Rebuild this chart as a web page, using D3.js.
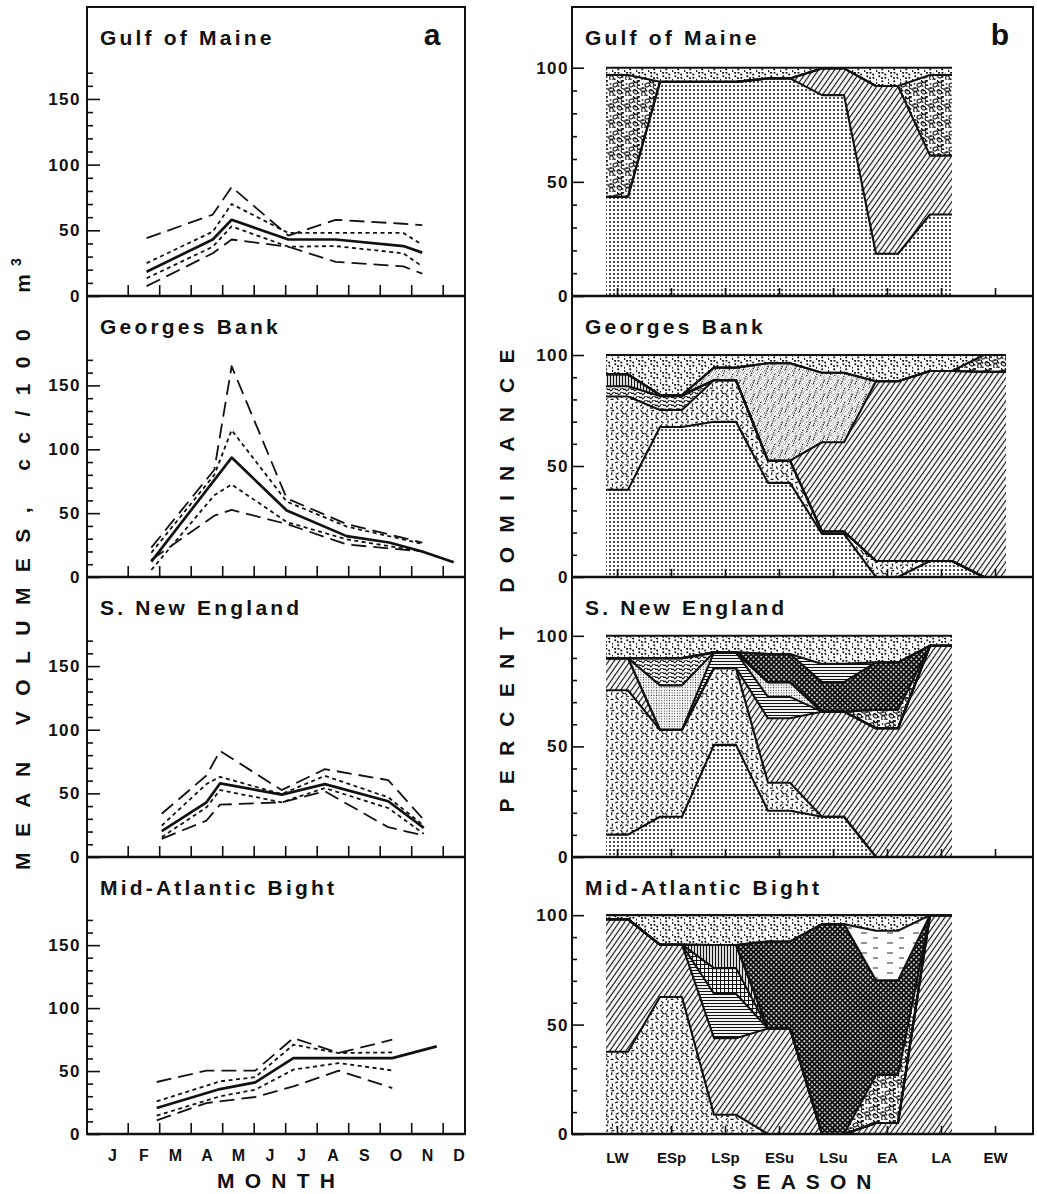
<!DOCTYPE html>
<html>
<head>
<meta charset="utf-8">
<script src="https://cdn.jsdelivr.net/npm/d3@7"></script>
<style>
body { margin: 0; background: #fff; }
svg text { font-family: "Liberation Sans", Arial, sans-serif; font-weight: bold; fill: #111; }
</style>
</head>
<body>
<svg id="chart" width="1037" height="1194"></svg>
<script>
// ---------------- data ----------------
var regions = ["Gulf of Maine", "Georges Bank", "S. New England", "Mid-Atlantic Bight"];
var months = ["J", "F", "M", "A", "M", "J", "J", "A", "S", "O", "N", "D"];
var seasons = ["LW", "ESp", "LSp", "ESu", "LSu", "EA", "LA", "EW"];

// panel a : mean volumes (cc/100 m3), x = month (0 = 1 Jan)
// order of lines: upper long dash, upper short dash, mean, lower short dash, lower long dash
var gomCruise  = [1.6, 3.7, 4.3, 6.1, 7.6, 9.75, 10.35];
var gomHiOuter = [44, 62, 83, 46, 58, 55, 54];
var gomHiInner = [25, 49, 70, 48, 48, 48, 39];
var gomMean    = [18.5, 43, 58, 43, 43, 38, 33];
var gomLoInner = [13.5, 37.5, 53, 37.5, 38, 32.5, 22.5];
var gomLoOuter = [7.5, 32.5, 43, 37.5, 26, 22.5, 17];

var gbCruise  = [1.75, 3.75, 4.3, 6.05, 7.95, 9.3, 10.35, 11.35];
var gbHiOuter = [23, 84, 165, 61.5, 41.5, null, 27, null];
var gbHiInner = [19, 80, 115, 59, 39.5, null, 26, null];
var gbMean    = [12, null, 93.5, 52, 32, 27, 20, 11.5];
var gbLoInner = [5.5, 64, 72.5, 43, 29.5, null, 20, null];
var gbLoOuter = [13.5, 48, 52.5, 41.5, 25.5, null, 20, null];

var sneCruise  = [2.08, 3.5, 3.93, 5.89, 7.26, 9.27, 10.4];
var sneHiOuter = [34, 64, 83.3, 52.6, 69, 60.4, 29.2];
var sneHiInner = [24.7, 57.3, 63, 49.5, 63.8, 46.9, 24.7];
var sneMean    = [20.3, 43, 57.8, 49, 57.3, 43.8, 22.9];
var sneLoInner = [15.6, 39, 52.6, 43, 54.2, 38.5, 18.2];
var sneLoOuter = [14.3, 28.6, 41.1, 43, 51.6, 23.4, 16.9];

var mabCruise  = [1.92, 3.5, 3.93, 5.05, 6.26, 7.7, 9.4, 10.81];
var mabHiOuter = [41.3, 50.3, null, 50.3, 76.2, 64.3, 74.9, null];
var mabHiInner = [25.9, null, 41.8, 45.2, 70.9, 64.3, 64.8, null];
var mabMean    = [20.6, null, 35.7, 41, 60.3, 60.3, 60.3, 69.6];
var mabLoInner = [14.6, null, 29.9, 35.2, 51.1, 56.3, 50.5, null];
var mabLoOuter = [10.8, 24.6, null, 29.4, 37.8, 50.3, 36.5, null];

// panel b : percent dominance by season, one row per group (bottom to top)
var gomKeys   = ["dots", "diag", "pebbles", "topdots"];
var gomShares = [
  [43.5, 93.8, 93.8, 95.3, 88.0, 18.5, 35.7],
  [0, 0, 0, 0, 11.7, 73.5, 25.8],
  [53.3, 0, 0, 0, 0, 0, 35.3],
  [3.2, 6.2, 6.2, 4.7, 0.3, 8.0, 3.2]
];

var gbKeys   = ["dots", "dashes", "curly", "vlines", "diag", "gray", "pebbles", "topdots"];
var gbShares = [
  [39.3, 67.6, 69.9, 42.4, 19.4, 0, 7.2, 0],
  [42.0, 7.6, 18.8, 10.0, 1.1, 7.2, 0, 0],
  [4.6, 6.3, 0, 0, 0, 0, 0, 0],
  [5.4, 0.5, 0, 0, 0, 0, 0, 0],
  [0, 0, 0, 0, 40.2, 81.0, 85.6, 92.4],
  [0, 0, 5.6, 43.9, 31.3, 0, 0, 0],
  [0, 0, 0, 0, 0, 0, 0, 7.6],
  [8.7, 18.0, 5.7, 3.7, 8.0, 11.8, 7.2, 0]
];

var sneKeys   = ["dots", "dashes", "diag", "hlines", "stipple", "curly", "pebbles", "cross", "hlines2", "topdots"];
var sneShares = [
  [10.1, 18.2, 50.7, 20.9, 18.2, 0, 0],
  [65.3, 39.3, 34.7, 12.7, 0, 0, 0],
  [14.5, 0, 0, 29.1, 47.5, 58.2, 95.5],
  [0, 0, 7.1, 9.7, 0, 0, 0],
  [0, 20.1, 0, 6.6, 0, 0, 0],
  [0, 12.3, 0, 0, 0, 0, 0],
  [0, 0, 0, 0, 0, 8.3, 0],
  [0, 0, 0, 12.8, 13.4, 21.5, 0],
  [0, 0, 0, 0, 8.2, 0, 0],
  [10.1, 10.1, 7.5, 8.2, 12.7, 12.0, 4.5]
];

var mabKeys   = ["dashes", "diag", "hlines", "grid", "vlines", "pebbles", "cross", "blank", "topdots"];
var mabShares = [
  [37.6, 62.6, 8.8, 0, 0, 0, 0],
  [60.6, 23.9, 35.0, 48.2, 0, 5.0, 100],
  [0, 0, 20.3, 0, 0, 0, 0],
  [0, 0, 11.7, 0, 0, 0, 0],
  [0, 0, 10.6, 0, 0, 0, 0],
  [0, 0, 0, 0, 0, 22.0, 0],
  [0, 0, 0, 39.8, 95.9, 43.2, 0],
  [0, 0, 0, 0, 0, 22.7, 0],
  [1.8, 13.5, 13.6, 12.0, 4.1, 7.1, 0]
];

var volumes = [
  {x: gomCruise, lines: [gomHiOuter, gomHiInner, gomMean, gomLoInner, gomLoOuter]},
  {x: gbCruise,  lines: [gbHiOuter, gbHiInner, gbMean, gbLoInner, gbLoOuter]},
  {x: sneCruise, lines: [sneHiOuter, sneHiInner, sneMean, sneLoInner, sneLoOuter]},
  {x: mabCruise, lines: [mabHiOuter, mabHiInner, mabMean, mabLoInner, mabLoOuter]}
];
var dominance = [
  {keys: gomKeys, shares: gomShares, n: 7},
  {keys: gbKeys,  shares: gbShares,  n: 8},
  {keys: sneKeys, shares: sneShares, n: 7},
  {keys: mabKeys, shares: mabShares, n: 7}
];

// ---------------- layout ----------------
var svg = d3.select("#chart");
var rowTop = [7, 296, 577, 857], rowBottom = [296, 577, 857, 1134];
var aLeft = 87, aRight = 465, bLeft = 572, bRight = 1033;

var xMonth = d3.scaleLinear().domain([0, 12]).range([96.2, 474.2]);
var xSeason = d3.scaleLinear().domain([0, 7]).range([617, 995]);
var half = 11; // half width of the flat step drawn for each season

var lineStyles = [
  {dash: "15,7", w: 1.8},
  {dash: "4,3.5", w: 1.8},
  {dash: null, w: 2.7},
  {dash: "4,3.5", w: 1.8},
  {dash: "15,7", w: 1.8}
];

// ---------------- fill patterns ----------------
var defs = svg.append("defs");
function frac(v) { return v - Math.floor(v); }
function pat(id, w, h, transform) {
  var p = defs.append("pattern").attr("id", "p-" + id)
    .attr("patternUnits", "userSpaceOnUse").attr("width", w).attr("height", h);
  if (transform) p.attr("patternTransform", transform);
  p.append("rect").attr("width", w).attr("height", h).attr("fill", "#fff");
  return p;
}
// regular dots
pat("dots", 4, 4).append("circle").attr("cx", 2).attr("cy", 2).attr("r", 1).attr("fill", "#111");
// scattered coarse dots
var td = pat("topdots", 12, 12);
d3.range(9).forEach(function(i) {
  td.append("circle").attr("cx", frac(0.5 + 0.7548776662 * i) * 12).attr("cy", frac(0.5 + 0.5698402910 * i) * 12)
    .attr("r", 1.05).attr("fill", "#111");
});
// random short dashes
var ds = pat("dashes", 20, 20);
d3.range(22).forEach(function(i) {
  var cx = frac(0.3 + 0.7548776662 * i) * 20, cy = frac(0.7 + 0.5698402910 * i) * 20;
  var a = frac(0.2 + 0.618034 * i) * Math.PI;
  ds.append("line").attr("x1", cx - 1.5 * Math.cos(a)).attr("y1", cy - 1.5 * Math.sin(a))
    .attr("x2", cx + 1.5 * Math.cos(a)).attr("y2", cy + 1.5 * Math.sin(a))
    .attr("stroke", "#111").attr("stroke-width", 1.25);
});
// fine grey speckle
var gr = pat("gray", 14, 14);
d3.range(55).forEach(function(i) {
  gr.append("circle").attr("cx", frac(0.1 + 0.7548776662 * i) * 14).attr("cy", frac(0.4 + 0.5698402910 * i) * 14)
    .attr("r", i % 6 === 0 ? 0.8 : 0.45).attr("fill", "#222");
});
// fine regular stipple
pat("stipple", 2.6, 2.6).append("circle").attr("cx", 1.3).attr("cy", 1.3).attr("r", 0.6).attr("fill", "#222");
// diagonal hatch
pat("diag", 4.4, 4.4, "rotate(35)").append("line").attr("x1", 2.2).attr("y1", 0).attr("x2", 2.2).attr("y2", 4.4)
  .attr("stroke", "#111").attr("stroke-width", 1.2);
// horizontal and vertical lines
pat("hlines", 3, 3).append("line").attr("x1", 0).attr("y1", 1.5).attr("x2", 3).attr("y2", 1.5)
  .attr("stroke", "#111").attr("stroke-width", 1.1);
pat("vlines", 3, 3).append("line").attr("x1", 1.5).attr("y1", 0).attr("x2", 1.5).attr("y2", 3)
  .attr("stroke", "#111").attr("stroke-width", 1.3);
// dense cross hatch
var cr = pat("cross", 3.6, 3.6, "rotate(45)");
cr.append("rect").attr("width", 3.6).attr("height", 3.6).attr("fill", "#111");
cr.append("rect").attr("x", 1).attr("y", 1).attr("width", 1.6).attr("height", 1.6).attr("fill", "#fff");
// square grid
var gd = pat("grid", 4, 4);
gd.append("path").attr("d", "M0,0.5H4M0.5,0V4").attr("stroke", "#111").attr("stroke-width", 1.2);
// pebbles
var pb = pat("pebbles", 16, 16);
d3.range(7).forEach(function(i) {
  var cx = frac(0.2 + 0.7548776662 * i) * 16, cy = frac(0.6 + 0.5698402910 * i) * 16;
  pb.append("ellipse").attr("cx", cx).attr("cy", cy).attr("rx", 2.5).attr("ry", 1.8)
    .attr("transform", "rotate(" + (frac(0.618034 * i) * 180) + "," + cx + "," + cy + ")")
    .attr("fill", "none").attr("stroke", "#111").attr("stroke-width", 1.1);
});
d3.range(9).forEach(function(i) {
  pb.append("circle").attr("cx", frac(0.65 + 0.7548776662 * i) * 16).attr("cy", frac(0.1 + 0.5698402910 * i) * 16)
    .attr("r", 0.85).attr("fill", "#111");
});
// curly squiggles
pat("curly", 8, 4).append("path").attr("d", "M0,2 C2,-1 2,5 4,2 S6,-1 8,2")
  .attr("fill", "none").attr("stroke", "#111").attr("stroke-width", 1.2);
// mostly blank with a few dashes
var bl = pat("blank", 26, 10);
bl.append("path").attr("d", "M3,3H9M15,8H20").attr("stroke", "#111").attr("stroke-width", 0.9);

// ---------------- panel a : volumes ----------------
volumes.forEach(function(v, r) {
  var top = rowTop[r], bottom = rowBottom[r];
  var y = d3.scaleLinear().domain([0, 220]).range([bottom, top]);
  var g = svg.append("g");

  v.lines.forEach(function(vals, j) {
    var pts = v.x.map(function(m, i) { return [m, vals[i]]; }).filter(function(p) { return p[1] != null; });
    var line = d3.line().x(function(p) { return xMonth(p[0]); }).y(function(p) { return y(p[1]); });
    g.append("path").attr("d", line(pts)).attr("fill", "none").attr("stroke", "#111")
      .attr("stroke-width", lineStyles[j].w).attr("stroke-dasharray", lineStyles[j].dash)
      .attr("stroke-linejoin", "round");
  });

  // y axis: majors with labels, minors every 10
  var yMajor = g.append("g").attr("transform", "translate(" + aLeft + ",0)")
    .call(d3.axisLeft(y).tickValues([0, 50, 100, 150]).tickSize(-13).tickPadding(6));
  var yMinor = g.append("g").attr("transform", "translate(" + aLeft + ",0)")
    .call(d3.axisLeft(y).tickValues(d3.range(10, 180, 10).filter(function(t) { return t % 50; }))
      .tickSize(-6).tickFormat(""));
  // month boundaries
  var xTicks = g.append("g").attr("transform", "translate(0," + bottom + ")")
    .call(d3.axisBottom(xMonth).tickValues(d3.range(1, 12)).tickSize(-11).tickFormat(""));
  [yMajor, yMinor, xTicks].forEach(function(a) {
    a.select(".domain").remove();
    a.selectAll("line").attr("stroke", "#111").attr("stroke-width", 1.6);
  });
  yMajor.selectAll("text").attr("font-size", 17).attr("letter-spacing", 1.5)
    .attr("font-family", "Liberation Sans, Arial, sans-serif").attr("font-weight", "normal").attr("fill", "#111");

  g.append("text").attr("x", 100).attr("y", top + 38).attr("font-size", 21).attr("letter-spacing", 3.2)
    .text(regions[r]);
});

// month labels
var mAxis = svg.append("g").attr("transform", "translate(0," + rowBottom[3] + ")")
  .call(d3.axisBottom(xMonth).tickValues(d3.range(12).map(function(i) { return i + 0.5; }))
    .tickSize(0).tickPadding(16).tickFormat(function(d, i) { return months[i]; }));
mAxis.select(".domain").remove();
mAxis.selectAll("text").attr("font-size", 16).attr("font-weight", "bold")
  .attr("font-family", "Liberation Sans, Arial, sans-serif").attr("fill", "#111");

// ---------------- panel b : dominance ----------------
dominance.forEach(function(dm, r) {
  var top = rowTop[r], bottom = rowBottom[r];
  var y = d3.scaleLinear().domain([0, 100]).range([bottom, bottom - 0.79 * (bottom - top)]);
  var rows = d3.range(dm.n).map(function(i) {
    var o = {season: seasons[i]};
    dm.keys.forEach(function(k, j) { o[k] = dm.shares[j][i]; });
    return o;
  });
  var stacked = d3.stack().keys(dm.keys)(rows);
  var g = svg.append("g");
  var area = d3.area().x(function(d) { return d.x; }).y0(function(d) { return y(d.lo); }).y1(function(d) { return y(d.hi); });
  var line = d3.line().x(function(d) { return d.x; }).y(function(d) { return y(d.hi); });

  stacked.forEach(function(s) {
    var pts = [];
    s.forEach(function(d, i) {
      pts.push({x: xSeason(i) - half, lo: d[0], hi: d[1]});
      pts.push({x: xSeason(i) + half, lo: d[0], hi: d[1]});
    });
    s.pts = pts;
    g.append("path").attr("d", area(pts)).attr("fill", "url(#p-" + s.key.replace(/\d$/, "") + ")");
  });
  stacked.forEach(function(s) {
    g.append("path").attr("d", line(s.pts)).attr("fill", "none").attr("stroke", "#111")
      .attr("stroke-width", 2.1).attr("stroke-linejoin", "round");
  });

  var yMajor = g.append("g").attr("transform", "translate(" + bLeft + ",0)")
    .call(d3.axisLeft(y).tickValues([0, 50, 100]).tickSize(-12).tickPadding(3));
  var yMinor = g.append("g").attr("transform", "translate(" + bLeft + ",0)")
    .call(d3.axisLeft(y).tickValues([10, 20, 30, 40, 60, 70, 80, 90]).tickSize(-5).tickFormat(""));
  var xTicks = g.append("g").attr("transform", "translate(0," + bottom + ")")
    .call(d3.axisBottom(xSeason).tickValues(d3.range(8)).tickSize(-8).tickFormat(""));
  [yMajor, yMinor, xTicks].forEach(function(a) {
    a.select(".domain").remove();
    a.selectAll("line").attr("stroke", "#111").attr("stroke-width", 1.6);
  });
  yMajor.selectAll("text").attr("font-size", 17).attr("letter-spacing", 1.5)
    .attr("font-family", "Liberation Sans, Arial, sans-serif").attr("font-weight", "normal").attr("fill", "#111");

  g.append("text").attr("x", 585).attr("y", top + 38).attr("font-size", 21).attr("letter-spacing", 3.2)
    .text(regions[r]);
});

var sAxis = svg.append("g").attr("transform", "translate(0," + rowBottom[3] + ")")
  .call(d3.axisBottom(xSeason).tickValues(d3.range(8)).tickSize(0).tickPadding(18)
    .tickFormat(function(d, i) { return seasons[i]; }));
sAxis.select(".domain").remove();
sAxis.selectAll("text").attr("font-size", 15).attr("font-weight", "bold")
  .attr("font-family", "Liberation Sans, Arial, sans-serif").attr("fill", "#111");

// ---------------- frames ----------------
[[aLeft, aRight], [bLeft, bRight]].forEach(function(f) {
  svg.append("rect").attr("x", f[0]).attr("y", rowTop[0]).attr("width", f[1] - f[0])
    .attr("height", rowBottom[3] - rowTop[0]).attr("fill", "none").attr("stroke", "#111").attr("stroke-width", 2);
  rowBottom.forEach(function(b) {
    svg.append("line").attr("x1", f[0]).attr("x2", f[1]).attr("y1", b).attr("y2", b)
      .attr("stroke", "#111").attr("stroke-width", 2.6);
  });
});

// panel letters
svg.append("text").attr("x", 432).attr("y", 45).attr("text-anchor", "middle").attr("font-size", 30).text("a");
svg.append("text").attr("x", 1000).attr("y", 45).attr("text-anchor", "middle").attr("font-size", 30).text("b");

// axis titles
svg.append("text").attr("transform", "translate(30,572) rotate(-90)")
  .attr("text-anchor", "middle").attr("font-size", 21).attr("textLength", 596).attr("lengthAdjust", "spacing")
  .text("MEAN VOLUMES, cc/100 m");
svg.append("text").attr("transform", "translate(21,262) rotate(-90)")
  .attr("text-anchor", "middle").attr("font-size", 14).text("3");

svg.append("text").attr("transform", "translate(514,581) rotate(-90)")
  .attr("text-anchor", "middle").attr("font-size", 21).attr("textLength", 463).attr("lengthAdjust", "spacing")
  .text("PERCENT DOMINANCE");

svg.append("text").attr("x", 276).attr("y", 1188).attr("text-anchor", "middle").attr("font-size", 21)
  .attr("textLength", 118).attr("lengthAdjust", "spacing").text("MONTH");
svg.append("text").attr("x", 802).attr("y", 1189).attr("text-anchor", "middle").attr("font-size", 21)
  .attr("textLength", 139).attr("lengthAdjust", "spacing").text("SEASON");
</script>
</body>
</html>
